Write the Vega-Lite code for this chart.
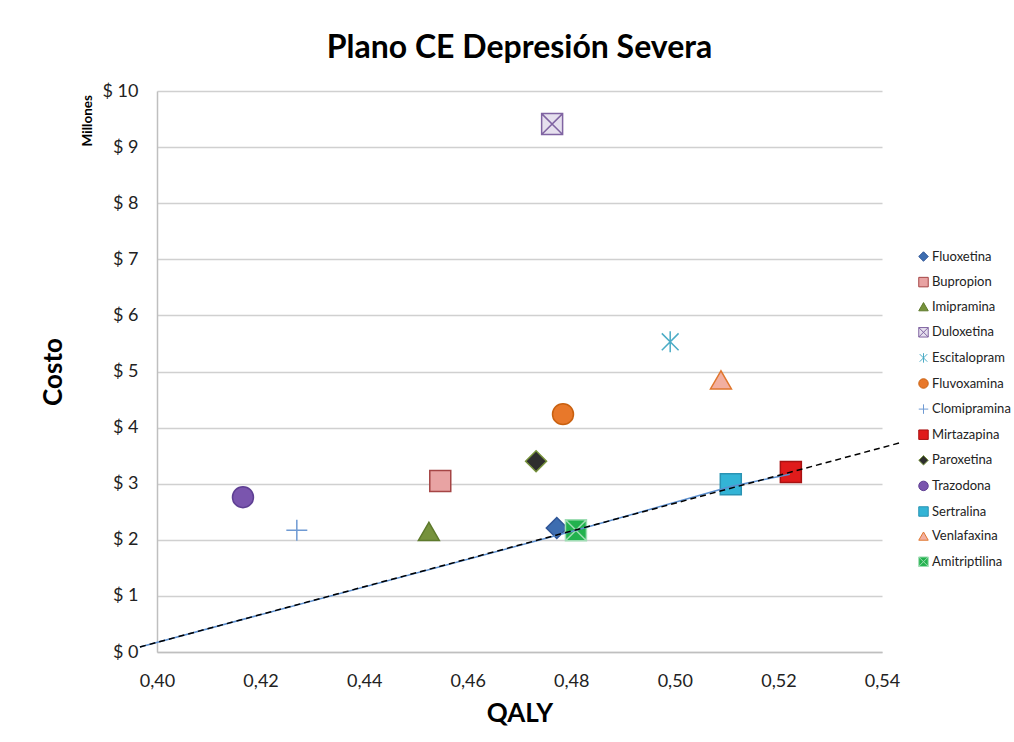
{
  "$schema": "https://vega.github.io/schema/vega-lite/v6.json",
  "width": 725,
  "height": 561,
  "autosize": {"type": "none"},
  "padding": {"left": 157, "top": 91, "right": 132, "bottom": 90},
  "background": "white",
  "config": {
    "font": "Lato",
    "view": {"stroke": null},
    "axis": {"labelFont": "Lato", "titleFont": "Lato"}
  },
  "title": {
    "text": "Plano CE Depresión Severa",
    "font": "Lato",
    "fontSize": 32,
    "fontWeight": "bold",
    "color": "#000000",
    "anchor": "middle",
    "offset": 17
  },
  "datasets": {
    "puntos": [
      {"farmaco": "Fluoxetina", "qaly": 0.4772, "costo": 2.21},
      {"farmaco": "Bupropion", "qaly": 0.4547, "costo": 3.05},
      {"farmaco": "Imipramina", "qaly": 0.4525, "costo": 2.15},
      {"farmaco": "Duloxetina", "qaly": 0.4763, "costo": 9.41},
      {"farmaco": "Escitalopram", "qaly": 0.4991, "costo": 5.53},
      {"farmaco": "Fluvoxamina", "qaly": 0.4784, "costo": 4.24},
      {"farmaco": "Clomipramina", "qaly": 0.427, "costo": 2.17},
      {"farmaco": "Mirtazapina", "qaly": 0.5224, "costo": 3.21},
      {"farmaco": "Paroxetina", "qaly": 0.4732, "costo": 3.4},
      {"farmaco": "Trazodona", "qaly": 0.4166, "costo": 2.76},
      {"farmaco": "Sertralina", "qaly": 0.5108, "costo": 2.99},
      {"farmaco": "Venlafaxina", "qaly": 0.5089, "costo": 4.85},
      {"farmaco": "Amitriptilina", "qaly": 0.4809, "costo": 2.17}
    ],
    "frontera": [
      {"qaly": 0.3967, "costo": 0.09},
      {"qaly": 0.4809, "costo": 2.17},
      {"qaly": 0.5108, "costo": 2.95},
      {"qaly": 0.5222, "costo": 3.17}
    ],
    "tendencia": [
      {"qaly": 0.3967, "costo": 0.09},
      {"qaly": 0.5435, "costo": 3.73}
    ],
    "nota": [
      {"texto": "Millones", "qaly": 0.3867, "costo": 9.47}
    ]
  },
  "layer": [
    {
      "data": {"name": "puntos"},
      "mark": {"type": "point", "filled": true, "size": 440, "strokeWidth": 1.5, "opacity": 1},
      "encoding": {
        "x": {
          "field": "qaly", "type": "quantitative",
          "scale": {"domain": [0.4, 0.54], "nice": false, "zero": false},
          "axis": {
            "title": "QALY",
            "titleFontSize": 26, "titleFontWeight": "bold", "titleColor": "#000000", "titlePadding": 10,
            "values": [0.4, 0.42, 0.44, 0.46, 0.48, 0.5, 0.52, 0.54],
            "labelExpr": "replace(format(datum.value, '.2f'), '.', ',')",
            "labelFontSize": 18, "labelColor": "#222222", "labelPadding": 20, "labelFlush": false,
            "grid": false, "ticks": false,
            "domainColor": "#BFBFBF", "domainWidth": 1.5
          }
        },
        "y": {
          "field": "costo", "type": "quantitative",
          "scale": {"domain": [0, 10], "nice": false},
          "axis": {
            "title": "Costo",
            "titleFontSize": 26, "titleFontWeight": "bold", "titleColor": "#000000", "titlePadding": 36,
            "values": [0, 1, 2, 3, 4, 5, 6, 7, 8, 9, 10],
            "labelExpr": "'$ ' + datum.value",
            "labelFontSize": 18, "labelColor": "#222222", "labelPadding": 19, "labelFlush": false,
            "grid": true, "gridColor": "#D0D0D0", "gridWidth": 1.5,
            "ticks": false,
            "domainColor": "#BFBFBF", "domainWidth": 1.5
          }
        },
        "shape": {
          "field": "farmaco", "type": "nominal",
          "scale": {
            "domain": ["Fluoxetina", "Bupropion", "Imipramina", "Duloxetina", "Escitalopram", "Fluvoxamina", "Clomipramina", "Mirtazapina", "Paroxetina", "Trazodona", "Sertralina", "Venlafaxina", "Amitriptilina"],
            "range": ["diamond", "square", "triangle-up", "M-1,-1L1,-1L1,1L-1,1ZM-1,-1L1,1M1,-1L-1,1", "M-0.8,-0.8L0.8,0.8M0.8,-0.8L-0.8,0.8M0,-1L0,1", "circle", "M-1,0L1,0M0,-1L0,1", "square", "diamond", "circle", "square", "triangle-up", "M-1,-1L1,-1L1,1L-1,1ZM-1,-1L1,1M1,-1L-1,1"]
          },
          "legend": {
            "title": null,
            "orient": "none",
            "legendX": 760,
            "legendY": 159,
            "labelFont": "Lato",
            "labelFontSize": 13,
            "labelColor": "#222222",
            "symbolSize": 90,
            "symbolStrokeWidth": 1,
            "rowPadding": 10.6,
            "labelOffset": 2,
            "padding": 0
          }
        },
        "fill": {
          "field": "farmaco", "type": "nominal",
          "scale": {
            "domain": ["Fluoxetina", "Bupropion", "Imipramina", "Duloxetina", "Escitalopram", "Fluvoxamina", "Clomipramina", "Mirtazapina", "Paroxetina", "Trazodona", "Sertralina", "Venlafaxina", "Amitriptilina"],
            "range": ["#3D6DB0", "#E8A3A3", "#76923C", "#E6E0EE", "#4BACC6", "#E8782A", "#7FA7D9", "#E01B1B", "#2E2E2E", "#7A55AE", "#33B4D6", "#F2AFA0", "#22B24E"]
          },
          "legend": null
        },
        "stroke": {
          "field": "farmaco", "type": "nominal",
          "scale": {
            "domain": ["Fluoxetina", "Bupropion", "Imipramina", "Duloxetina", "Escitalopram", "Fluvoxamina", "Clomipramina", "Mirtazapina", "Paroxetina", "Trazodona", "Sertralina", "Venlafaxina", "Amitriptilina"],
            "range": ["#2F5597", "#A54545", "#5E7A2C", "#8064A2", "#4BACC6", "#C9600F", "#6F9AD3", "#A81212", "#77933C", "#5E3F93", "#2A93B3", "#E0762E", "#9FDDB4"]
          },
          "legend": null
        }
      }
    },
    {
      "data": {"name": "frontera"},
      "mark": {"type": "line", "color": "#5B8FD0", "strokeWidth": 1.5},
      "encoding": {
        "x": {"field": "qaly", "type": "quantitative"},
        "y": {"field": "costo", "type": "quantitative"}
      }
    },
    {
      "data": {"name": "tendencia"},
      "mark": {"type": "line", "color": "#000000", "strokeWidth": 1.5, "strokeDash": [6, 4]},
      "encoding": {
        "x": {"field": "qaly", "type": "quantitative"},
        "y": {"field": "costo", "type": "quantitative"}
      }
    },
    {
      "data": {"name": "nota"},
      "mark": {"type": "text", "angle": 270, "fontSize": 13.5, "fontWeight": "bold", "font": "Lato", "color": "#000000", "align": "center", "baseline": "middle"},
      "encoding": {
        "x": {"field": "qaly", "type": "quantitative"},
        "y": {"field": "costo", "type": "quantitative"},
        "text": {"field": "texto", "type": "nominal"}
      }
    }
  ]
}
